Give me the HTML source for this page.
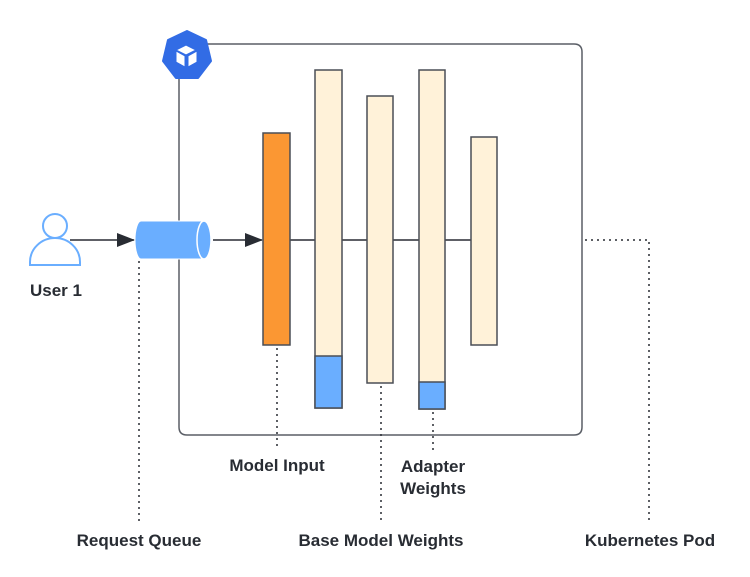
<!DOCTYPE html>
<html><head><meta charset="utf-8"><style>
html,body{margin:0;padding:0;background:#fff;}
svg{display:block;}
text{font-family:"Liberation Sans",sans-serif;font-weight:bold;font-size:17px;fill:#282c33;text-anchor:middle;}
</style></head><body>
<svg width="750" height="577" viewBox="0 0 750 577">
<defs>
<marker id="ar" markerWidth="18" markerHeight="14" refX="17" refY="7" orient="auto" markerUnits="userSpaceOnUse"><path d="M0,0 L18,7 L0,14 Z" fill="#282c33"/></marker>
</defs>
<path d="M179,44 H574 Q582,44 582,52 V427 Q582,435 574,435 H187 Q179,435 179,427 Z" fill="none" stroke="#5a5e66" stroke-width="1.5"/>
<g stroke="#282c33" stroke-width="2" stroke-dasharray="0,6" fill="none" stroke-linecap="round">
<path d="M139,262 V524"/>
<path d="M277,349 V450"/>
<path d="M381,387 V524"/>
<path d="M433,413 V450"/>
<path d="M586,240 H649 V524"/>
</g>
<path d="M290,240 H471" stroke="#282c33" stroke-width="1.5"/>
<path d="M70,240 H134" stroke="#282c33" stroke-width="1.5" marker-end="url(#ar)"/>
<path d="M213,240 H262" stroke="#282c33" stroke-width="1.5" marker-end="url(#ar)"/>
<circle cx="55" cy="226" r="12" fill="#fff" stroke="#6aaeff" stroke-width="2"/>
<path d="M30,265 V262 A25,24 0 0 1 80,262 V265 Z" fill="#fff" stroke="#6aaeff" stroke-width="2"/>
<path d="M141,221 H204 V259 H141 A6,19 0 0 1 141,221 Z" fill="#6aaeff" stroke="#fff" stroke-width="1"/>
<ellipse cx="204" cy="240" rx="7" ry="19" fill="#6aaeff" stroke="#fff" stroke-width="1.5"/>
<g stroke="#4a4e56" stroke-width="1.5">
<rect x="263" y="133" width="27" height="212" fill="#fb9733"/>
<rect x="315" y="70" width="27" height="338" fill="#fff2d9"/>
<rect x="315" y="356" width="27" height="52" fill="#6aaeff"/>
<rect x="367" y="96" width="26" height="287" fill="#fff2d9"/>
<rect x="419" y="70" width="26" height="339" fill="#fff2d9"/>
<rect x="419" y="382" width="26" height="27" fill="#6aaeff"/>
<rect x="471" y="137" width="26" height="208" fill="#fff2d9"/>
</g>
<polygon points="187,31 206,40 211,61 198,78 176,78 163,61 168,40" fill="#326ce5" stroke="#326ce5" stroke-width="2" stroke-linejoin="round"/>
<g fill="#fff" stroke="#326ce5" stroke-width="1">
<path d="M186,45 L196,50 L186,55 L176,50 Z"/>
<path d="M176,51 L185,56 L185,67 L176,62 Z"/>
<path d="M197,51 L188,56 L188,67 L197,62 Z"/>
</g>
<text x="56" y="296">User 1</text>
<text x="277" y="471">Model Input</text>
<text x="433" y="472">Adapter</text>
<text x="433" y="494">Weights</text>
<text x="139" y="546">Request Queue</text>
<text x="381" y="546">Base Model Weights</text>
<text x="650" y="546">Kubernetes Pod</text>
</svg>
</body></html>
